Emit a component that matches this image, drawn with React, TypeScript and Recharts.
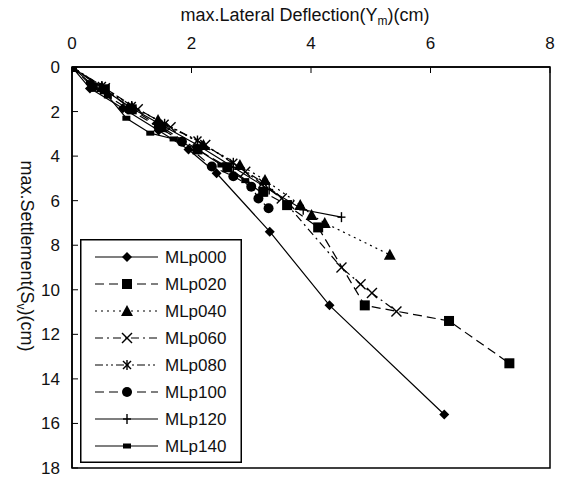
import React from "react";
import { LineChart, Line, XAxis, YAxis, ReferenceArea } from "recharts";

// axis ticks
const xTicks = [0, 2, 4, 6, 8];
const yTicks = [0, 2, 4, 6, 8, 10, 12, 14, 16, 18];

// [max lateral deflection (cm), max settlement (cm)]
const mlp000 = [[0, 0], [0.3, 0.96], [0.85, 1.85], [1.45, 2.85], [1.95, 3.7], [2.42, 4.77], [3.31, 7.39], [4.31, 10.7], [6.23, 15.6]];
const mlp020 = [[0, 0], [0.55, 1.0], [1.0, 1.9], [1.5, 2.7], [2.1, 3.7], [2.6, 4.5], [3.2, 5.6], [3.6, 6.2], [4.12, 7.2], [4.9, 10.7], [6.31, 11.4], [7.32, 13.3]];
const mlp040 = [[0, 0], [0.5, 0.9], [1.0, 1.8], [1.44, 2.38], [2.2, 3.5], [2.81, 4.4], [3.23, 5.07], [3.82, 6.19], [4.01, 6.64], [4.23, 7.0], [5.32, 8.43]];
const mlp060 = [[0, 0], [0.55, 0.95], [1.1, 1.9], [1.65, 2.7], [2.23, 3.5], [2.9, 4.7], [3.51, 5.9], [4.51, 9.0], [4.83, 9.75], [5.02, 10.15], [5.43, 10.97]];
const mlp080 = [[0, 0], [0.5, 0.85], [1.0, 1.75], [1.55, 2.55], [2.1, 3.3], [2.7, 4.3], [3.2, 5.2], [3.65, 6.19]];
const mlp100 = [[0, 0], [0.35, 0.9], [0.95, 1.9], [1.45, 2.7], [1.84, 3.35], [2.34, 4.47], [2.7, 4.9], [3.0, 5.37], [3.12, 5.9], [3.29, 6.34]];
const mlp120 = [[0, 0], [0.5, 0.95], [1.0, 1.85], [1.5, 2.6], [2.1, 3.5], [2.7, 4.5], [3.3, 5.5], [3.87, 6.41], [4.51, 6.74]];
const mlp140 = [[0, 0], [0.3, 0.7], [0.6, 1.3], [0.91, 2.3], [1.31, 2.97], [1.7, 3.23], [2.1, 3.7], [2.5, 4.4], [2.9, 5.1], [3.2, 5.7]];

const names = ["MLp000", "MLp020", "MLp040", "MLp060", "MLp080", "MLp100", "MLp120", "MLp140"];
const values = [mlp000, mlp020, mlp040, mlp060, mlp080, mlp100, mlp120, mlp140];

const dashes = [undefined, "9 5", "2 4", "8 4 2 4", "8 3 2 3 2 3", "9 5", undefined, undefined];
const markers = ["diamond", "square", "triangle", "x", "star", "circle", "plus", "smallsq"];

const FONT = "'Liberation Sans', Arial, sans-serif";

function Marker({ kind, cx, cy }: { kind: string; cx: number; cy: number }) {
  const s = { stroke: "#000", strokeWidth: 1.4, fill: "none" };
  switch (kind) {
    case "diamond":
      return <polygon points={`${cx},${cy - 5} ${cx + 5},${cy} ${cx},${cy + 5} ${cx - 5},${cy}`} fill="#000" />;
    case "square":
      return <rect x={cx - 5} y={cy - 5} width={10} height={10} fill="#000" />;
    case "triangle":
      return <polygon points={`${cx},${cy - 6} ${cx + 6},${cy + 5} ${cx - 6},${cy + 5}`} fill="#000" />;
    case "x":
      return (
        <g {...s}>
          <line x1={cx - 5} y1={cy - 5} x2={cx + 5} y2={cy + 5} />
          <line x1={cx - 5} y1={cy + 5} x2={cx + 5} y2={cy - 5} />
        </g>
      );
    case "star":
      return (
        <g {...s}>
          <line x1={cx - 4} y1={cy - 4} x2={cx + 4} y2={cy + 4} />
          <line x1={cx - 4} y1={cy + 4} x2={cx + 4} y2={cy - 4} />
          <line x1={cx} y1={cy - 5} x2={cx} y2={cy + 5} />
        </g>
      );
    case "circle":
      return <circle cx={cx} cy={cy} r={5} fill="#000" />;
    case "plus":
      return (
        <g {...s}>
          <line x1={cx} y1={cy - 5} x2={cx} y2={cy + 5} />
          <line x1={cx - 4} y1={cy} x2={cx + 4} y2={cy} />
        </g>
      );
    default:
      return <rect x={cx - 4} y={cy - 2.5} width={8} height={5} fill="#000" />;
  }
}

function Legend() {
  const rowY = (i: number) => 18 + i * 27;
  return (
    <svg
      width={162}
      height={224}
      style={{ position: "absolute", left: 80, top: 239, background: "#fff" }}
    >
      <rect x={0.75} y={0.75} width={160.5} height={222.5} fill="#fff" stroke="#000" strokeWidth={1.5} />
      {names.map((n, i) => (
        <g key={n}>
          <line x1={15} x2={78} y1={rowY(i)} y2={rowY(i)} stroke="#000" strokeWidth={1.2} strokeDasharray={dashes[i]} />
          <Marker kind={markers[i]} cx={47} cy={rowY(i)} />
          <text x={85} y={rowY(i) + 6} fontSize={17} fontFamily={FONT} fill="#111">
            {n}
          </text>
        </g>
      ))}
    </svg>
  );
}

export default function App() {
  const series = names.map((n, i) => ({
    name: n,
    data: values[i].map(([x, y]) => ({ x, y })),
  }));

  return (
    <div style={{ position: "absolute", left: 0, top: 0, width: 562, height: 479, background: "#fff" }}>
      <LineChart width={562} height={479} margin={{ top: 37, right: 12, bottom: 11, left: 32 }}>
        <XAxis
          xAxisId={0}
          type="number"
          dataKey="x"
          orientation="top"
          domain={[0, 8]}
          ticks={xTicks}
          height={30}
          tickSize={-6}
          tickMargin={24}
          axisLine={{ stroke: "#000", strokeWidth: 1.5 }}
          tickLine={{ stroke: "#000" }}
          tick={{ fontSize: 17, fill: "#111", fontFamily: FONT }}
          allowDataOverflow
        />
        <YAxis
          yAxisId={0}
          type="number"
          dataKey="y"
          domain={[0, 18]}
          ticks={yTicks}
          reversed
          width={40}
          tickSize={-6}
          tickMargin={18}
          axisLine={{ stroke: "#000", strokeWidth: 1.5 }}
          tickLine={{ stroke: "#000" }}
          tick={{ fontSize: 17, fill: "#111", fontFamily: FONT }}
          allowDataOverflow
        />
        <ReferenceArea x1={0} x2={8} y1={0} y2={18} fill="none" stroke="#000" strokeWidth={1.5} />
        {series.map((s, i) => (
          <Line
            key={s.name}
            name={s.name}
            data={s.data}
            dataKey="y"
            type="linear"
            stroke="#000"
            strokeWidth={1.2}
            strokeDasharray={dashes[i]}
            isAnimationActive={false}
            dot={(p: any) => <Marker key={`${s.name}-${p.index}`} kind={markers[i]} cx={p.cx} cy={p.cy} />}
            activeDot={false}
          />
        ))}
        <text x={305} y={21} textAnchor="middle" fontSize={18} fontFamily={FONT} fill="#111">
          max.Lateral Deflection(Y<tspan fontSize={12} dy={4}>m</tspan>
          <tspan dy={-4}>)(cm)</tspan>
        </text>
        <text
          x={0}
          y={0}
          transform="translate(21,256) rotate(90)"
          textAnchor="middle"
          fontSize={18}
          fontFamily={FONT}
          fill="#111"
        >
          max.Settlement(S<tspan fontSize={12} dy={4}>v</tspan>
          <tspan dy={-4}>)(cm)</tspan>
        </text>
      </LineChart>
      <Legend />
    </div>
  );
}
